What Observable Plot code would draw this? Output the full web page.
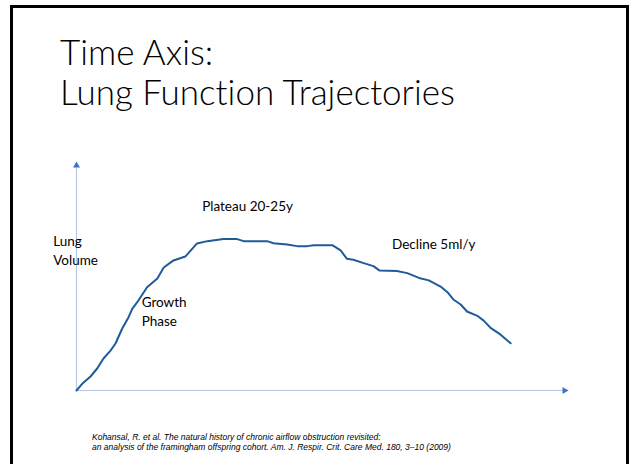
<!DOCTYPE html>
<html>
<head>
<meta charset="utf-8">
<script src="https://cdn.jsdelivr.net/npm/d3@7"></script>
<script src="https://cdn.jsdelivr.net/npm/@observablehq/plot@0.6"></script>
<style>
  html, body { margin: 0; padding: 0; width: 630px; height: 464px; overflow: hidden; background: #fff; }
  #frame { position: absolute; left: 10px; top: 5px; width: 613px; height: 600px; border: 3px solid #000; box-sizing: content-box; }
  #title { position: absolute; left: 60px; top: 31px; font-family: Lato, sans-serif; font-weight: 300; font-size: 35px; line-height: 40px; color: #000; white-space: nowrap; font-variant-ligatures: none; font-feature-settings: "liga" 0, "dlig" 0; }
  #chart { position: absolute; left: 0; top: 0; }
  #cite { position: absolute; left: 92px; top: 432px; font-family: "Liberation Sans", Arial, sans-serif; font-style: italic; font-size: 8.5px; line-height: 10px; color: #000; white-space: nowrap; }
</style>
</head>
<body>
<div id="frame"></div>
<div id="title">Time Axis:<br>Lung Function Trajectories</div>
<div id="chart"></div>
<div id="cite">Kohansal, R. et al. The natural history of chronic airflow obstruction revisited:<br>an analysis of the framingham offspring cohort. Am. J. Respir. Crit. Care Med. 180, 3–10 (2009)</div>
<script>
// Trajectory (time in arbitrary units, lung volume in arbitrary units)
const age = [0, 1.16, 2.86, 4.22, 5.51, 6.94, 7.96, 9.33, 10.6, 11.4, 12.4, 14.4, 16.5, 17.8, 19.8, 22.2, 24.6, 26.7, 30.0, 32.8, 34.1, 38.9, 40.2, 43.0, 45.0, 47.1, 48.4, 52.2, 53.9, 55.2, 56.5, 58.6, 60.6, 61.8, 65.4, 67.5, 69.9, 71.9, 74.3, 75.7, 76.9, 78.4, 79.7, 81.8, 83.1, 84.5, 86.5, 88.6];
const volume = [0, 2.95, 6.17, 9.69, 14.1, 17.6, 20.7, 27.3, 32.2, 36.1, 38.9, 45.5, 49.3, 54.2, 57.3, 59.0, 64.8, 65.8, 66.7, 66.7, 65.8, 65.8, 64.9, 64.3, 63.6, 63.6, 64.0, 64.0, 61.7, 58.0, 57.6, 56.1, 54.8, 52.9, 52.6, 51.7, 49.6, 48.5, 45.8, 43.3, 40.1, 37.9, 34.8, 32.9, 30.8, 27.6, 24.7, 20.8];

const labelText = ["Lung\nVolume", "Growth\nPhase", "Plateau 20-25y", "Decline 5ml/y"];
const labelX = [-4.76, 13.3, 25.65, 64.4];
const labelY = [62.3, 35.2, 81.9, 64.9];

const axisMax = 100;

const curve = age.map((a, i) => ({age: a, volume: volume[i]}));
const labels = labelText.map((t, i) => ({text: t, x: labelX[i], y: labelY[i]}));

const axisLine = "#b4c7e7";
const arrowHead = "#4472c4";

const chart = Plot.plot({
  width: 630,
  height: 464,
  marginLeft: 76,
  marginRight: 64,
  marginTop: 163,
  marginBottom: 74,
  x: {domain: [0, axisMax], axis: null},
  y: {domain: [0, axisMax], axis: null},
  style: {background: "transparent", overflow: "visible"},
  marks: [
    Plot.ruleY([0], {x1: 0, x2: axisMax, stroke: axisLine, strokeWidth: 1.2}),
    Plot.ruleX([0], {y1: 0, y2: axisMax, stroke: axisLine, strokeWidth: 1.2}),
    Plot.dot([{x: 0, y: axisMax}], {x: "x", y: "y", symbol: "triangle", r: 2.6, fill: arrowHead, stroke: null, dy: 2}),
    Plot.dot([{x: axisMax, y: 0}], {x: "x", y: "y", symbol: "triangle", r: 2.6, fill: arrowHead, stroke: null, rotate: 90, dx: -2}),
    Plot.line(curve, {x: "age", y: "volume", stroke: "#1f5b98", strokeWidth: 2, curve: "linear"}),
    Plot.text(labels, {x: "x", y: "y", text: "text", textAnchor: "start", fontFamily: "Lato, sans-serif", fontSize: 13.5, lineHeight: 1.42, fill: "#000"})
  ]
});
document.getElementById("chart").appendChild(chart);
</script>
</body>
</html>
